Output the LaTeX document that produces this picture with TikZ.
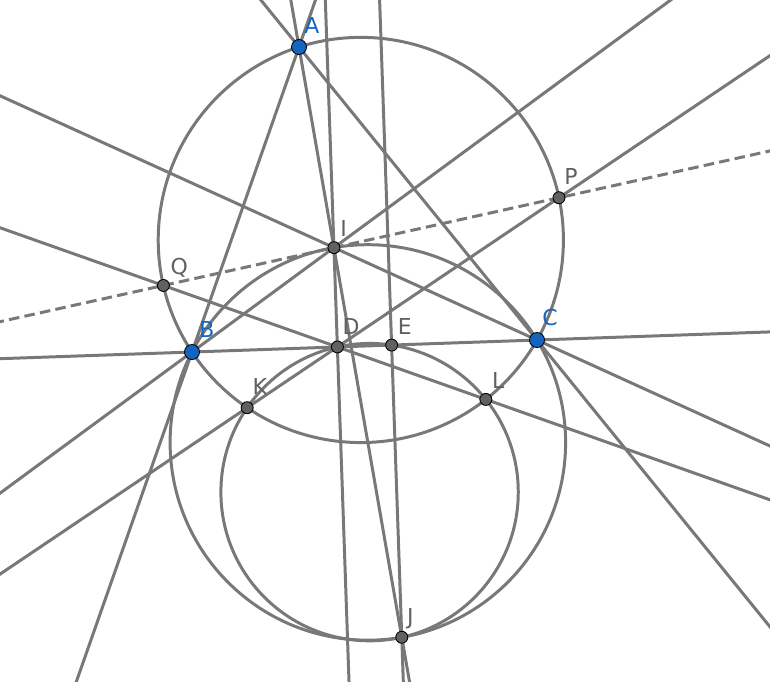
\documentclass[tikz,border=0pt]{standalone}
\usepackage{fontspec}
\setsansfont{DejaVu Sans}
\usetikzlibrary{calc}
\definecolor{geogray}{RGB}{120,120,120}
\definecolor{ptgray}{RGB}{97,97,97}
\definecolor{ptblue}{RGB}{21,101,192}

\begin{document}
\begin{tikzpicture}[
  x=0.02cm, y=-0.02cm,
  geoline/.style={draw=geogray,line width=1.7pt},
  auxline/.style={geoline,dash pattern=on 6pt off 3pt},
  bluept/.style={circle,fill=ptblue,draw=black,line width=0.5pt,inner sep=0pt,minimum size=0.3cm},
  graypt/.style={circle,fill=ptgray,draw=black,line width=0.5pt,inner sep=0pt,minimum size=0.24cm},
  ptlabel/.style={font=\sffamily\fontsize{12.5}{14}\selectfont,inner sep=0pt,anchor=base west,text=#1},
]
  \useasboundingbox (0,0) rectangle (770,681);
  % triangle, incenter and the constructed points (pixel grid, y down)
  \coordinate (A) at (299,47);
  \coordinate (B) at (192,352);
  \coordinate (C) at (537,340);
  \coordinate (I) at (333.93,247.63);
  \coordinate (D) at (337.38,346.94);
  \coordinate (E) at (391.61,345.06);
  \coordinate (O) at (360.81,239.95);
  \coordinate (M) at (367.85,442.44);
  \coordinate (J) at (401.77,637.25);
  \coordinate (N) at (369.58,492.10);
  \coordinate (K) at (247.17,407.69);
  \coordinate (L) at (485.83,399.39);
  \coordinate (P) at (558.96,197.72);
  \coordinate (Q) at (163.38,285.46);

  \begin{scope}
    \clip (0,0) rectangle (770,681);
    % circles: ABC, BIC, DEJ
    \foreach \cc/\pp in {O/A,M/B,N/D}
      \draw[geoline] let \p1=($(\pp)-(\cc)$), \n1={veclen(\x1,\y1)} in (\cc) circle [radius=\n1];
    % full lines
    \foreach \u/\v in {A/B,A/C,B/C,A/I,B/I,C/I,D/I,E/J,K/D,L/D}
      \draw[geoline] ($(\u)!-8!(\v)$) -- ($(\u)!8!(\v)$);
    \draw[auxline] ($(Q)!-8!(P)$) -- ($(Q)!8!(P)$);
  \end{scope}

  % points and labels
  \foreach \pp in {A,B,C}
    \node[bluept] (pt\pp) at (\pp) {};
  \foreach \pp in {D,E,I,J,K,L,P,Q}
    \node[graypt] (pt\pp) at (\pp) {};
  \foreach \pp/\dx/\dy in {A/5/-14,B/7/-15,C/5/-15}
    \node[ptlabel=ptblue] (lbl\pp) at ($(\pp)+(\dx,\dy)$) {\pp};
  \foreach \pp/\dx/\dy in {D/5/-12,E/6/-11,I/6/-11,J/5/-13,K/5/-13,L/6/-11,P/5/-13,Q/7/-11}
    \node[ptlabel=ptgray] (lbl\pp) at ($(\pp)+(\dx,\dy)$) {\pp};
\end{tikzpicture}
\end{document}
